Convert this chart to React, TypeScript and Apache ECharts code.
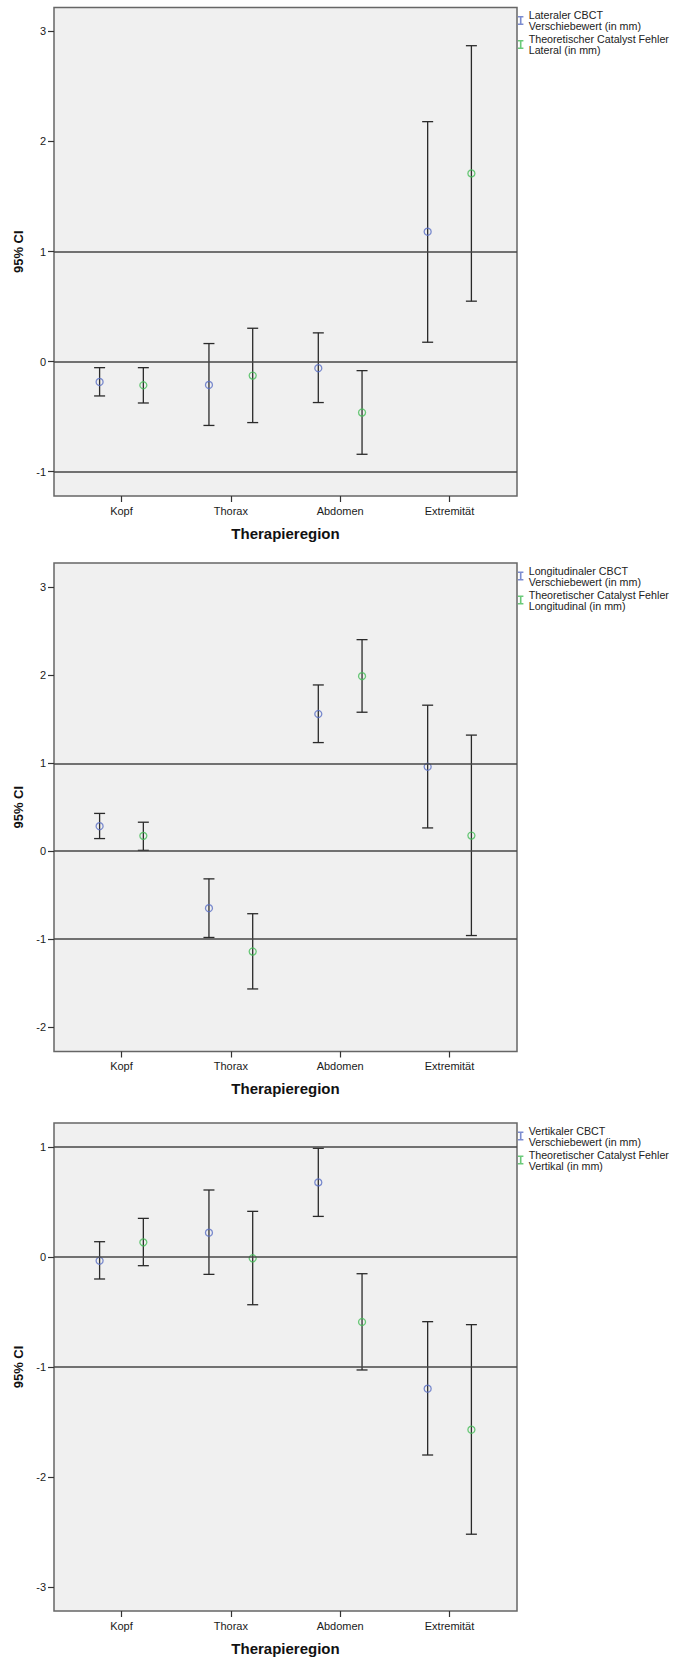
import React, { useEffect, useRef } from "react";
import * as echarts from "echarts";

// ---------- data ----------
const categories = ["Kopf", "Thorax", "Abdomen", "Extremität"];
const categoryPositions = [0, 1, 2, 3];

// Chart 1 – lateral
const latCbctMean = [-0.185, -0.212, -0.06, 1.18];
const latCbctLow = [-0.312, -0.58, -0.372, 0.176];
const latCbctHigh = [-0.055, 0.164, 0.261, 2.18];
const latCatMean = [-0.215, -0.127, -0.463, 1.71];
const latCatLow = [-0.376, -0.554, -0.842, 0.549];
const latCatHigh = [-0.055, 0.303, -0.082, 2.87];

// Chart 2 – longitudinal
const lonCbctMean = [0.285, -0.647, 1.56, 0.96];
const lonCbctLow = [0.144, -0.98, 1.235, 0.265];
const lonCbctHigh = [0.43, -0.314, 1.89, 1.66];
const lonCatMean = [0.175, -1.14, 1.99, 0.178];
const lonCatLow = [0.01, -1.565, 1.58, -0.958];
const lonCatHigh = [0.33, -0.71, 2.405, 1.32];

// Chart 3 – vertical
const verCbctMean = [-0.034, 0.221, 0.678, -1.197];
const verCbctLow = [-0.2, -0.158, 0.369, -1.8];
const verCbctHigh = [0.139, 0.609, 0.988, -0.588];
const verCatMean = [0.133, -0.012, -0.591, -1.57];
const verCatLow = [-0.079, -0.434, -1.027, -2.52];
const verCatHigh = [0.351, 0.415, -0.152, -0.615];

// tick labels and reference lines
const yTicks1 = [-1, 0, 1, 2, 3];
const yTicks2 = [-2, -1, 0, 1, 2, 3];
const yTicks3 = [-3, -2, -1, 0, 1];
const yRange1 = [-1.221, 3.217];
const yRange2 = [-2.276, 3.276];
const yRange3 = [-3.218, 1.218];
const refLines = [-1, 0, 1];

const names1 = ["Lateraler CBCT\nVerschiebewert (in mm)", "Theoretischer Catalyst Fehler\nLateral (in mm)"];
const names2 = ["Longitudinaler CBCT\nVerschiebewert (in mm)", "Theoretischer Catalyst Fehler\nLongitudinal (in mm)"];
const names3 = ["Vertikaler CBCT\nVerschiebewert (in mm)", "Theoretischer Catalyst Fehler\nVertikal (in mm)"];

// ---------- styles ----------
const BLUE = "#5a6fc4";
const GREEN = "#45bd57";
const FONT = "Liberation Sans, Arial, sans-serif";
const DODGE = 0.2;
const X_PAD = 0.617;
const CAP = 5.5;

const grids = [
  { top: 7.5, height: 488.5 },
  { top: 563, height: 488.5 },
  { top: 1123, height: 488 },
];

const ICON = "path://M0,0H6V1.6H3.9V8.4H6V10H0V8.4H2.1V1.6H0Z";

function renderErrorBar(params: any, api: any) {
  const x = api.value(0);
  const lo = api.value(1);
  const hi = api.value(2);
  const top = api.coord([x, hi]);
  const bot = api.coord([x, lo]);
  const style = { stroke: "#2a2a2a", lineWidth: 1.3 };
  return {
    type: "group",
    children: [
      { type: "line", shape: { x1: top[0], y1: top[1], x2: bot[0], y2: bot[1] }, style },
      { type: "line", shape: { x1: top[0] - CAP, y1: top[1], x2: top[0] + CAP, y2: top[1] }, style },
      { type: "line", shape: { x1: bot[0] - CAP, y1: bot[1], x2: bot[0] + CAP, y2: bot[1] }, style },
    ],
  };
}

function buildPanel(
  idx: number,
  names: string[],
  cbct: number[][],
  cat: number[][],
  yTicks: number[],
  yRange: number[]
) {
  const [cMean, cLow, cHigh] = cbct;
  const [gMean, gLow, gHigh] = cat;
  const xb = categoryPositions.map((p) => p - DODGE);
  const xg = categoryPositions.map((p) => p + DODGE);

  const grid = {
    left: 54,
    width: 463,
    top: grids[idx].top,
    height: grids[idx].height,
    show: true,
    backgroundColor: "#f0f0f0",
    borderColor: "#666",
    borderWidth: 1.5,
  };

  const xAxis = {
    gridIndex: idx,
    type: "value",
    min: -X_PAD,
    max: 3 + X_PAD,
    axisLine: { show: false, onZero: false },
    splitLine: { show: false },
    axisTick: { show: true, length: 6, customValues: categoryPositions, lineStyle: { color: "#333", width: 1.2 } },
    axisLabel: {
      customValues: categoryPositions,
      margin: 9,
      fontSize: 11,
      fontFamily: FONT,
      color: "#1a1a1a",
      formatter: (v: number) => (Number.isInteger(v) ? categories[v] ?? "" : ""),
    },
    name: "Therapieregion",
    nameLocation: "middle",
    nameGap: 29.5,
    nameTextStyle: { fontWeight: "bold", fontSize: 15, fontFamily: FONT, color: "#111" },
  };

  const yAxis = {
    gridIndex: idx,
    type: "value",
    min: yRange[0],
    max: yRange[1],
    axisLine: { show: false, onZero: false },
    splitLine: { show: false },
    axisTick: { show: true, length: 6, customValues: yTicks, lineStyle: { color: "#333", width: 1.2 } },
    axisLabel: {
      customValues: yTicks,
      margin: 8,
      fontSize: 11,
      fontFamily: FONT,
      color: "#1a1a1a",
      formatter: (v: number) => (Number.isInteger(v) ? String(v) : ""),
    },
    name: "95% CI",
    nameLocation: "middle",
    nameGap: 28,
    nameRotate: 90,
    nameTextStyle: { fontWeight: "bold", fontSize: 13, fontFamily: FONT, color: "#111" },
  };

  const series = [
    {
      type: "custom",
      name: "refs" + idx,
      xAxisIndex: idx,
      yAxisIndex: idx,
      silent: true,
      renderItem: renderErrorBar,
      encode: { x: 0, y: [1, 2] },
      data: [],
      z: 1,
      markLine: {
        silent: true,
        symbol: ["none", "none"],
        label: { show: false },
        lineStyle: { color: "#474747", width: 1.6, type: "solid" },
        data: refLines.map((v) => ({ yAxis: v })),
      },
    },
    {
      type: "custom",
      name: "eb_cbct" + idx,
      xAxisIndex: idx,
      yAxisIndex: idx,
      silent: true,
      renderItem: renderErrorBar,
      encode: { x: 0, y: [1, 2] },
      data: xb.map((x, i) => [x, cLow[i], cHigh[i]]),
      z: 2,
    },
    {
      type: "custom",
      name: "eb_cat" + idx,
      xAxisIndex: idx,
      yAxisIndex: idx,
      silent: true,
      renderItem: renderErrorBar,
      encode: { x: 0, y: [1, 2] },
      data: xg.map((x, i) => [x, gLow[i], gHigh[i]]),
      z: 2,
    },
    {
      type: "scatter",
      name: names[0],
      xAxisIndex: idx,
      yAxisIndex: idx,
      symbol: "circle",
      symbolSize: 7,
      itemStyle: { color: "rgba(0,0,0,0)", borderColor: BLUE, borderWidth: 1.3 },
      data: xb.map((x, i) => [x, cMean[i]]),
      z: 3,
    },
    {
      type: "scatter",
      name: names[1],
      xAxisIndex: idx,
      yAxisIndex: idx,
      symbol: "circle",
      symbolSize: 7,
      itemStyle: { color: "rgba(0,0,0,0)", borderColor: GREEN, borderWidth: 1.3 },
      data: xg.map((x, i) => [x, gMean[i]]),
      z: 3,
    },
  ];

  const legend = {
    orient: "vertical",
    left: 518,
    top: grids[idx].top + 2,
    padding: 0,
    itemGap: 2,
    itemWidth: 6,
    itemHeight: 9,
    selectedMode: false,
    textStyle: { fontSize: 10.7, lineHeight: 11, fontFamily: FONT, color: "#222" },
    data: [
      { name: names[0], icon: ICON, itemStyle: { color: BLUE, borderWidth: 0 } },
      { name: names[1], icon: ICON, itemStyle: { color: GREEN, borderWidth: 0 } },
    ],
  };

  return { grid, xAxis, yAxis, series, legend };
}

export default function App() {
  const ref = useRef<HTMLDivElement>(null);

  useEffect(() => {
    document.body.style.margin = "0";
    if (!ref.current) return;
    const chart = echarts.init(ref.current, null, { renderer: "svg" });

    const p1 = buildPanel(0, names1, [latCbctMean, latCbctLow, latCbctHigh], [latCatMean, latCatLow, latCatHigh], yTicks1, yRange1);
    const p2 = buildPanel(1, names2, [lonCbctMean, lonCbctLow, lonCbctHigh], [lonCatMean, lonCatLow, lonCatHigh], yTicks2, yRange2);
    const p3 = buildPanel(2, names3, [verCbctMean, verCbctLow, verCbctHigh], [verCatMean, verCatLow, verCatHigh], yTicks3, yRange3);
    const panels = [p1, p2, p3];

    chart.setOption({
      animation: false,
      backgroundColor: "#ffffff",
      textStyle: { fontFamily: FONT },
      grid: panels.map((p) => p.grid),
      xAxis: panels.map((p) => p.xAxis),
      yAxis: panels.map((p) => p.yAxis),
      legend: panels.map((p) => p.legend),
      series: panels.flatMap((p) => p.series),
    } as any);

    return () => chart.dispose();
  }, []);

  return (
    <div
      ref={ref}
      style={{ position: "absolute", left: 0, top: 0, width: 673, height: 1658 }}
    />
  );
}
